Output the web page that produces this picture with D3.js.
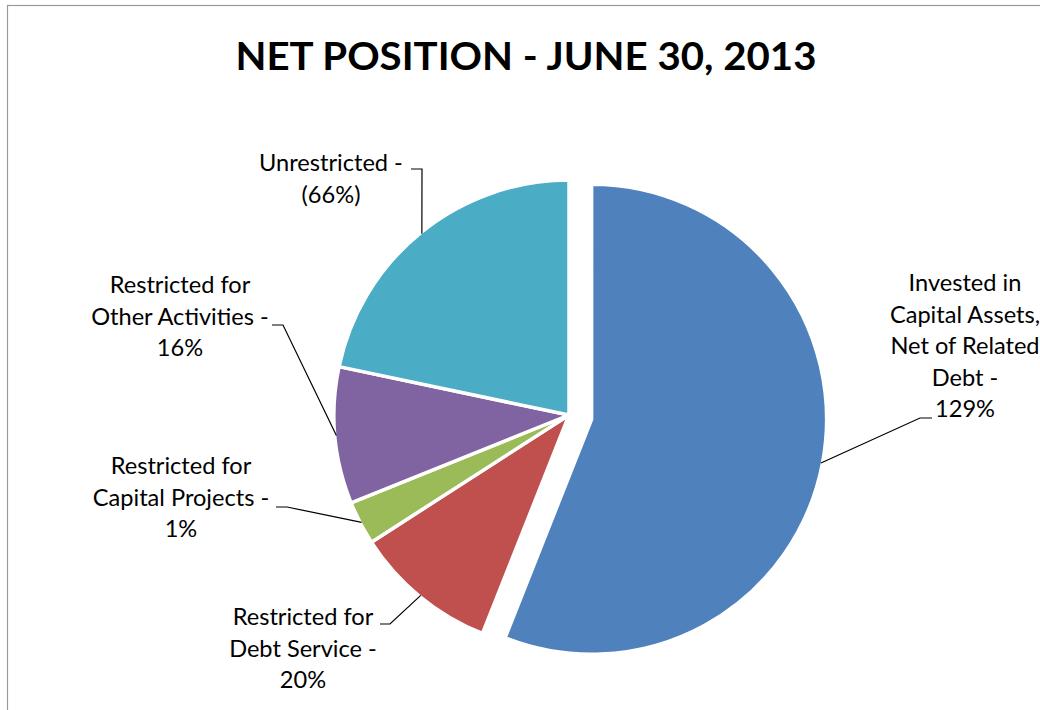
<!DOCTYPE html>
<html>
<head>
<meta charset="utf-8">
<script src="https://cdn.jsdelivr.net/npm/d3@7"></script>
<style>
  body { margin: 0; background: #fff; }
  text { font-family: Lato, "Open Sans", sans-serif; fill: #000; }
</style>
</head>
<body>
<div id="chart"></div>
<script>
// data
var categories = ["Invested in Capital Assets, Net of Related Debt", "Restricted for Debt Service",
  "Restricted for Capital Projects", "Restricted for Other Activities", "Unrestricted"];
var sliceValues = [56.0, 9.9, 3.0, 9.4, 21.7];
var pctLabels = ["129%", "20%", "1%", "16%", "(66%)"];
var labelLines = [
  ["Invested in", "Capital Assets,", "Net of Related", "Debt -"],
  ["Restricted for", "Debt Service -"],
  ["Restricted for", "Capital Projects -"],
  ["Restricted for", "Other Activities -"],
  ["Unrestricted -"]
];
var colors = ["#4F81BD", "#C0504D", "#9BBB59", "#8064A2", "#4BACC6"];

// layout
var svgWidth = 1040, svgHeight = 710;
var cx = 569, cy = 415, radius = 235, explode = 23;
var lineH = 31.5;
// label centre x, first baseline y, leader start x, elbow x, leader y
var labelPos = [
  {x: 965, y: 291, lx: 932, ex: 920, ly: 418},
  {x: 303, y: 625, lx: 380, ex: 390, ly: 624},
  {x: 181, y: 474, lx: 276, ex: 287, ly: 507},
  {x: 180, y: 293, lx: 272, ex: 283, ly: 325},
  {x: 331, y: 171, lx: 411, ex: 422, ly: 169}
];

var svg = d3.select("#chart")
  .append("svg")
  .attr("width", svgWidth)
  .attr("height", svgHeight);

// chart frame (cropped at right and bottom)
svg.append("rect")
  .attr("x", 7.5).attr("y", 5.5)
  .attr("width", 1200).attr("height", 900)
  .attr("fill", "none")
  .attr("stroke", "#9a9a9a")
  .attr("stroke-width", 1.2);

svg.append("text")
  .attr("x", 526)
  .attr("y", 70)
  .attr("text-anchor", "middle")
  .attr("font-weight", "bold")
  .attr("font-size", 39)
  .attr("textLength", 581)
  .attr("lengthAdjust", "spacingAndGlyphs")
  .text("NET POSITION - JUNE 30, 2013");

var pie = d3.pie().sort(null).value(d => d);
var arcs = pie(sliceValues);
var arc = d3.arc().innerRadius(0).outerRadius(radius);

function offset(d, i) {
  if (i !== 0) return [0, 0];
  var mid = (d.startAngle + d.endAngle) / 2;
  return [Math.sin(mid) * explode, -Math.cos(mid) * explode];
}

var pieGroup = svg.append("g")
  .attr("transform", `translate(${cx}, ${cy})`);

pieGroup.selectAll("path")
  .data(arcs)
  .enter()
  .append("path")
  .attr("transform", (d, i) => `translate(${offset(d, i)[0]}, ${offset(d, i)[1]})`)
  .attr("d", arc)
  .attr("fill", (d, i) => colors[i])
  .attr("stroke", "#fff")
  .attr("stroke-width", 3.5)
  .attr("stroke-linejoin", "round");

// leader lines
arcs.forEach(function(d, i) {
  var mid = (d.startAngle + d.endAngle) / 2;
  var o = offset(d, i);
  var px = cx + o[0] + Math.sin(mid) * (radius - 1.5);
  var py = cy + o[1] - Math.cos(mid) * (radius - 1.5);
  var p = labelPos[i];
  svg.append("polyline")
    .attr("points", `${p.lx},${p.ly} ${p.ex},${p.ly} ${px},${py}`)
    .attr("fill", "none")
    .attr("stroke", "#000")
    .attr("stroke-width", 1.2);
});

// labels
labelLines.forEach(function(lines, i) {
  var p = labelPos[i];
  var all = lines.concat([pctLabels[i]]);
  var t = svg.append("text")
    .attr("text-anchor", "middle")
    .attr("font-size", 23.6);
  all.forEach(function(s, j) {
    t.append("tspan")
      .attr("x", p.x)
      .attr("y", p.y + j * lineH)
      .text(s);
  });
});
</script>
</body>
</html>
